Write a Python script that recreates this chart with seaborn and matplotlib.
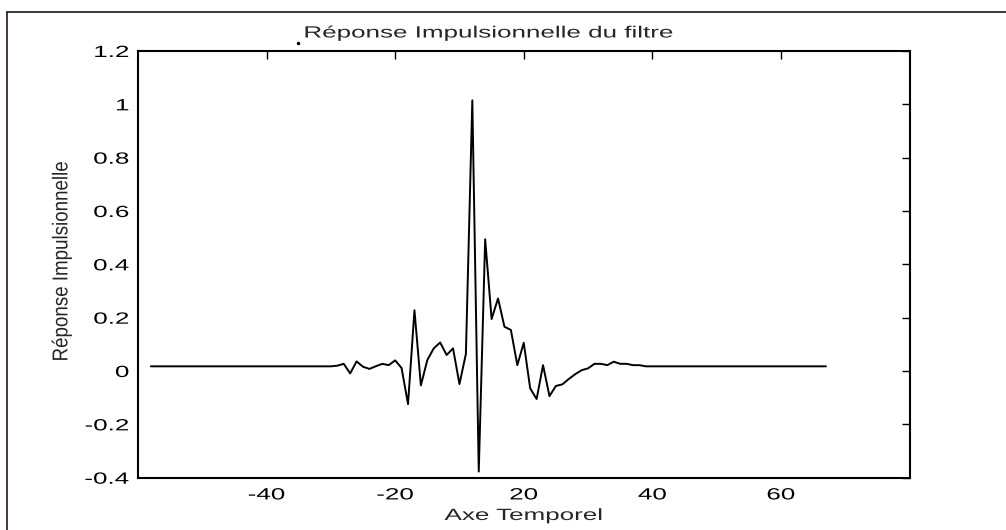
import numpy as np
import pandas as pd
import matplotlib
matplotlib.use("Agg")
import matplotlib.pyplot as plt
from matplotlib.lines import Line2D
from matplotlib.patheffects import AbstractPathEffect
from matplotlib.transforms import Affine2D
import seaborn as sns

# Time axis of the impulse response (one sample per unit)
n_start, n_end = -58, 47
baseline = 0.0176

# Samples of the response around the main lobe, from n = -29 to n = 18
core_start = -29
core_values = [
    0.020, 0.027, -0.009, 0.036, 0.016, 0.008, 0.018, 0.027, 0.022, 0.040,
    0.011, -0.124, 0.228, -0.054, 0.041, 0.085, 0.107, 0.060, 0.085, -0.049,
    0.064, 1.015, -0.377, 0.494, 0.195, 0.272, 0.166, 0.154, 0.022, 0.106,
    -0.065, -0.105, 0.022, -0.094, -0.056, -0.050, -0.030, -0.012, 0.003, 0.010,
    0.027, 0.027, 0.022, 0.035, 0.027, 0.027, 0.022, 0.022,
]

x_ticks = [-40, -20, 0, 20, 40]
x_tick_labels = ["-40", "-20", "20", "40", "60"]
y_ticks = [-0.4, -0.2, 0.0, 0.2, 0.4, 0.6, 0.8, 1.0, 1.2]
y_tick_labels = ["-0.4", "-0.2", "0", "0.2", "0.4", "0.6", "0.8", "1", "1.2"]

t = np.arange(n_start, n_end + 1)
h = np.full(t.shape, baseline)
idx0 = core_start - n_start
h[idx0:idx0 + len(core_values)] = core_values
df = pd.DataFrame({"t": t, "h": h})


class WideText(AbstractPathEffect):
    """Draws text glyphs widened horizontally about a chosen anchor."""

    def __init__(self, sx, anchor="center"):
        super().__init__()
        self.sx = sx
        self.anchor = anchor

    def draw_path(self, renderer, gc, tpath, affine, rgbFace=None):
        ext = tpath.get_extents(affine)
        if self.anchor == "right":
            cx = ext.x1
        elif self.anchor == "left":
            cx = ext.x0
        else:
            cx = 0.5 * (ext.x0 + ext.x1)
        aff = affine + Affine2D().translate(-cx, 0).scale(self.sx, 1).translate(cx, 0)
        renderer.draw_path(gc, tpath, aff, rgbFace)


sns.set_style("white")
plt.rcParams["font.family"] = ["Liberation Sans", "DejaVu Sans"]

W, H = 1006, 530
FS = 11.7
SX = 1.6
fig = plt.figure(figsize=(W / 100, H / 100), dpi=100)
ax = fig.add_axes([138 / W, 1 - 477.7 / H, 771.5 / W, 426.7 / H])

sns.lineplot(data=df, x="t", y="h", ax=ax, color="black", linewidth=1.4)

ax.set_xlim(-60, 60)
ax.set_ylim(-0.4, 1.2)
ax.set_xticks(x_ticks)
ax.set_xticklabels(x_tick_labels)
ax.set_yticks(y_ticks)
ax.set_yticklabels(y_tick_labels)
ax.tick_params(direction="in", length=5.8, width=1.0, top=True, right=True,
               labelsize=FS, colors="black")
ax.tick_params(axis="x", pad=7)
ax.tick_params(axis="y", pad=6.5)
for s in ax.spines.values():
    s.set_visible(True)
    s.set_color("black")
    s.set_linewidth(1.5)

for lbl in ax.get_xticklabels():
    lbl.set_path_effects([WideText(SX, "center")])
for lbl in ax.get_yticklabels():
    lbl.set_path_effects([WideText(SX, "right")])

ax.set_xlabel("Axe Temporel", fontsize=FS, labelpad=4,
              path_effects=[WideText(SX, "center")])
ax.set_ylabel("Réponse Impulsionnelle", fontsize=13.5,
              path_effects=[WideText(1.15, "right")])
ax.yaxis.set_label_coords((72 - 138) / 771.5, (477.7 - 261.7) / 426.7)

fig.text(489 / W, 1 - 33 / H, "Réponse Impulsionnelle du filtre",
         ha="center", va="center", fontsize=FS,
         path_effects=[WideText(SX, "center")])
fig.add_artist(Line2D([298 / W], [1 - 43 / H], marker="o", markersize=1.5,
                      color="black", linestyle="none"))

# Outer frame around the figure
frame_color = "#2a1414"
fig.add_artist(Line2D([7 / W, 7 / W], [0, 1 - 12 / H], color=frame_color, linewidth=1.2))
fig.add_artist(Line2D([7 / W, 1], [1 - 12 / H, 1 - 12 / H], color=frame_color, linewidth=1.2))

fig.savefig("out.png", dpi=100, facecolor="white")
